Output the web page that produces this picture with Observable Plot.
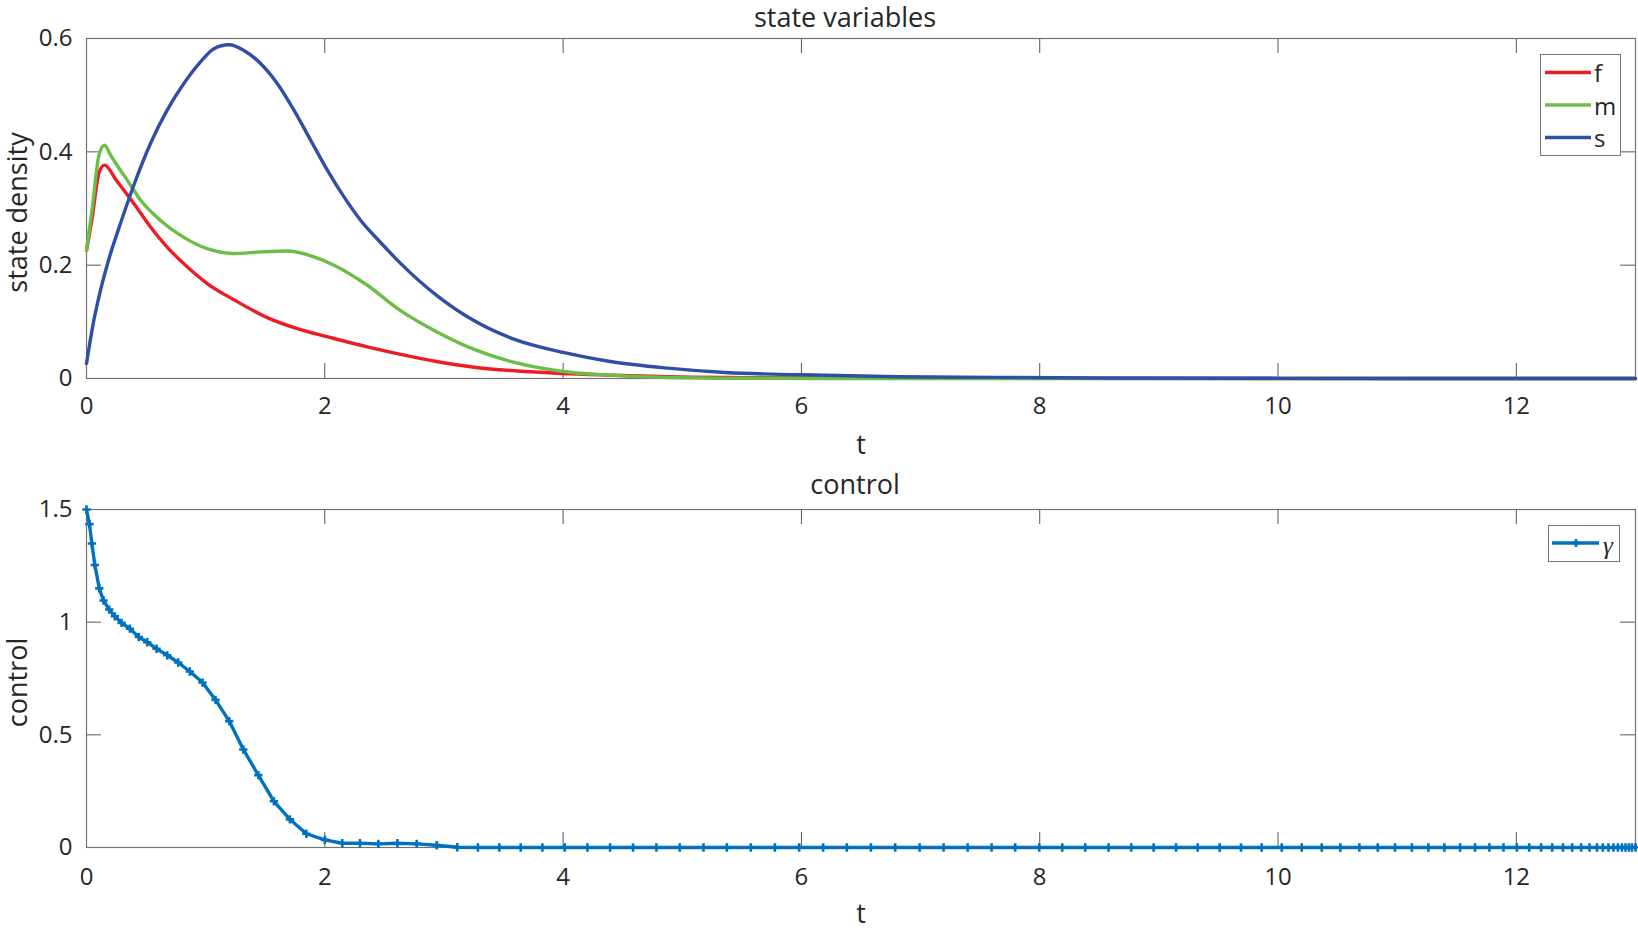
<!DOCTYPE html>
<html><head><meta charset="utf-8">
<script src="https://cdn.jsdelivr.net/npm/d3@7"></script>
<script src="https://cdn.jsdelivr.net/npm/@observablehq/plot@0.6"></script>
<style>
body{margin:0;background:#fff;}
#wrap{position:relative;width:1638px;height:934px;font-family:"Open Sans",sans-serif;color:#262626;}
#topDiv,#botDiv{position:absolute;left:0;}
#topDiv{top:0px}#botDiv{top:467px}
.legend{position:absolute;background:#fff;border:1px solid #777;box-sizing:border-box;}
.legend svg{display:block}
</style></head><body>
<div id="wrap"><div id="topDiv"></div><div id="botDiv"></div>
<div class="legend" id="leg1" style="left:1540px;top:54px;width:81px;height:102px"></div>
<div class="legend" id="leg2" style="left:1548px;top:525px;width:72px;height:37px"></div>
</div>
<script>
// ---- data ----
const seriesNames = ["f", "m", "s"];
const seriesColors = ["#ED1C24", "#6ABD45", "#2E4FA3"];

const tF = [0, 0.045, 0.107, 0.151, 0.25, 0.397, 0.537, 0.677, 0.845, 1.013, 1.237, 1.517, 1.797, 2.077, 2.357, 2.627, 2.949, 3.27, 3.592, 4.0, 4.395, 4.878, 5.5, 6.5, 8, 10, 13];
const fVal = [0.226, 0.28, 0.3646, 0.3765, 0.35, 0.309, 0.2675, 0.232, 0.197, 0.1676, 0.139, 0.1075, 0.0862, 0.0706, 0.0558, 0.043, 0.0295, 0.0195, 0.0136, 0.0088, 0.0059, 0.003, 0.0015, 0.0006, 0.0002, 0, 0];

const tM = [0, 0.045, 0.107, 0.151, 0.2, 0.27, 0.342, 0.453, 0.621, 0.817, 1.013, 1.237, 1.461, 1.685, 1.909, 2.077, 2.357, 2.627, 2.949, 3.27, 3.592, 4.0, 4.395, 4.878, 5.5, 6.5, 8, 10, 13];
const mVal = [0.226, 0.295, 0.396, 0.4115, 0.395, 0.372, 0.35, 0.315, 0.279, 0.249, 0.229, 0.2206, 0.2234, 0.225, 0.2146, 0.2, 0.1646, 0.121, 0.0813, 0.05, 0.0283, 0.0124, 0.0059, 0.0018, 0.0005, 0.0001, 0, 0, 0];

const tS = [0, 0.062, 0.118, 0.202, 0.285, 0.397, 0.537, 0.677, 0.817, 0.957, 1.069, 1.195, 1.321, 1.461, 1.601, 1.741, 1.881, 2.021, 2.161, 2.3, 2.468, 2.627, 2.949, 3.27, 3.592, 4.0, 4.395, 4.878, 5.36, 6.003, 6.807, 7.64, 8.5, 10, 11.5, 13];
const sVal = [0.0265, 0.103, 0.156, 0.2206, 0.2735, 0.341, 0.4147, 0.4735, 0.5206, 0.5587, 0.582, 0.589, 0.579, 0.556, 0.5206, 0.4735, 0.4205, 0.3676, 0.3205, 0.2793, 0.24, 0.205, 0.145, 0.1, 0.069, 0.046, 0.03, 0.0183, 0.0106, 0.0065, 0.003, 0.002, 0.001, 0.0003, 0.0001, 0];

const tCtrl = [
  0, 0.025, 0.045, 0.070, 0.107, 0.143, 0.191, 0.238, 0.294, 0.364, 0.439, 0.510, 0.588, 0.678, 0.770, 0.867, 0.974, 1.083, 1.198, 1.316, 1.442, 1.573, 1.707, 1.845, 2.001,
  2.147, 2.295, 2.449, 2.609, 2.771, 2.939, 3.112,
  3.285, 3.465, 3.644, 3.826, 4.013, 4.204,
  4.394, 4.587, 4.783, 4.979, 5.178, 5.374, 5.575, 5.777, 5.981, 6.182, 6.381, 6.583, 6.787, 6.992,
  7.193, 7.395, 7.596, 7.794, 7.996, 8.189, 8.382, 8.578, 8.768, 8.956, 9.144, 9.326, 9.510, 9.689, 9.863, 10.031, 10.199,
  10.367, 10.523, 10.683, 10.837, 10.982, 11.123, 11.262, 11.396, 11.528, 11.654, 11.774, 11.892, 12.004, 12.108, 12.208, 12.301, 12.391, 12.469, 12.544, 12.614, 12.676, 12.726, 12.773, 12.815, 12.852, 12.886, 12.916, 12.945, 12.970, 13.0
];
const uCtrl = [
  1.5, 1.435, 1.349, 1.254, 1.150, 1.096, 1.056, 1.026, 0.997, 0.971, 0.934, 0.911, 0.882, 0.853, 0.821, 0.781, 0.732, 0.655, 0.561, 0.435, 0.321, 0.205, 0.125, 0.061, 0.034,
  0.019, 0.019, 0.016, 0.019, 0.016, 0.010, 0.001,
  0, 0, 0, 0, 0, 0,
  0, 0, 0, 0, 0, 0, 0, 0, 0, 0, 0, 0, 0, 0,
  0, 0, 0, 0, 0, 0, 0, 0, 0, 0, 0, 0, 0, 0, 0, 0, 0,
  0, 0, 0, 0, 0, 0, 0, 0, 0, 0, 0, 0, 0, 0, 0, 0, 0, 0, 0, 0, 0, 0, 0, 0, 0, 0, 0, 0, 0, 0
];

const xTicks = [0, 2, 4, 6, 8, 10, 12];
const yTicksTop = [0, 0.2, 0.4, 0.6];
const yTicksBot = [0, 0.5, 1, 1.5];
const ctrlColor = "#0072BD";

// ---- build ----
const W = 1638, H = 467, ML = 86, MR = 3;
const frameColor = "#727272", tickColor = "#555";
const fmt = d => `${d}`;

const stateData = [
  ...tF.map((t, i) => ({t, v: fVal[i], k: "f"})),
  ...tM.map((t, i) => ({t, v: mVal[i], k: "m"})),
  ...tS.map((t, i) => ({t, v: sVal[i], k: "s"}))
];
const ctrlData = d3.zip(tCtrl, uCtrl).map(([t, v]) => ({t, v}));

function decorations(yTicks, mt, mb, title, titleDx, ylabel, bottomPad) {
  const ph = H - mt - mb, pw = W - ML - MR, tl = 15;
  return [
    Plot.tickX(xTicks, {x: d => d, insetTop: ph - tl, stroke: tickColor}),
    Plot.tickX(xTicks, {x: d => d, insetBottom: ph - tl, stroke: tickColor}),
    Plot.tickY(yTicks, {y: d => d, insetRight: pw - tl, stroke: tickColor}),
    Plot.tickY(yTicks, {y: d => d, insetLeft: pw - tl, stroke: tickColor}),
    Plot.frame({stroke: frameColor, strokeWidth: 1.2}),
    Plot.axisX(xTicks, {anchor: "bottom", tickSize: 0, tickPadding: bottomPad, label: null, tickFormat: fmt, fontSize: 24}),
    Plot.axisY(yTicks, {anchor: "left", tickSize: 0, tickPadding: 14, label: null, tickFormat: fmt, fontSize: 24}),
    Plot.text([title], {text: d => d, frameAnchor: "top", lineAnchor: "middle", dy: -mt + 18, dx: titleDx, fontSize: 27}),
    Plot.text(["t"], {text: d => d, frameAnchor: "bottom", lineAnchor: "middle", dy: 67, fontSize: 27}),
    Plot.text([ylabel], {text: d => d, frameAnchor: "left", textAnchor: "middle", lineAnchor: "middle", rotate: -90, dx: -68, dy: 4, fontSize: 27})
  ];
}

const common = {
  width: W, height: H, marginLeft: ML, marginRight: MR,
  style: {fontFamily: "'Open Sans', sans-serif", fontSize: "24px", color: "#262626", background: "transparent", overflow: "visible"}
};

const topPlot = Plot.plot({
  ...common, marginTop: 38, marginBottom: 89,
  x: {domain: [0, 13], label: null},
  y: {domain: [0, 0.6], label: null},
  color: {domain: seriesNames, range: seriesColors},
  marks: [
    ...decorations(yTicksTop, 38, 89, "state variables", -16, "state density", 18),
    Plot.line(stateData, {x: "t", y: "v", z: "k", stroke: "k", strokeWidth: 3.4, curve: "monotone-x"})
  ]
});
document.getElementById("topDiv").append(topPlot);

const botPlot = Plot.plot({
  ...common, marginTop: 42, marginBottom: 87,
  x: {domain: [0, 13], label: null},
  y: {domain: [0, 1.5], label: null},
  marks: [
    ...decorations(yTicksBot, 42, 87, "control", -6, "control", 20),
    Plot.line(ctrlData, {x: "t", y: "v", stroke: ctrlColor, strokeWidth: 3.4}),
    Plot.dot(ctrlData, {x: "t", y: "v", symbol: "plus", r: 2.8, stroke: ctrlColor, strokeWidth: 2.6})
  ]
});
document.getElementById("botDiv").append(botPlot);

// ---- legends ----
const ns = "http://www.w3.org/2000/svg";
function mk(tag, attrs, parent) {
  const e = document.createElementNS(ns, tag);
  for (const k in attrs) e.setAttribute(k, attrs[k]);
  parent.appendChild(e); return e;
}
{
  const svg = mk("svg", {width: 79, height: 100}, document.getElementById("leg1"));
  seriesNames.forEach((n, i) => {
    const y = 17.5 + i * 32.5;
    mk("line", {x1: 4, x2: 50, y1: y, y2: y, stroke: seriesColors[i], "stroke-width": 3.4}, svg);
    const t = mk("text", {x: 53, y: y, "dominant-baseline": "central", "font-size": 24, "font-family": "'Open Sans', sans-serif", fill: "#262626"}, svg);
    t.textContent = n;
  });
}
{
  const svg = mk("svg", {width: 70, height: 35}, document.getElementById("leg2"));
  mk("line", {x1: 3, x2: 50, y1: 17, y2: 17, stroke: ctrlColor, "stroke-width": 3.4}, svg);
  mk("path", {d: "M23,17h8M27,13v8", stroke: ctrlColor, "stroke-width": 2.6, fill: "none"}, svg);
  const t = mk("text", {x: 54, y: 19, "dominant-baseline": "central", "font-size": 25, "font-style": "italic", "font-family": "'Liberation Serif', serif", fill: "#262626"}, svg);
  t.textContent = "γ";
}
</script>
</body></html>
